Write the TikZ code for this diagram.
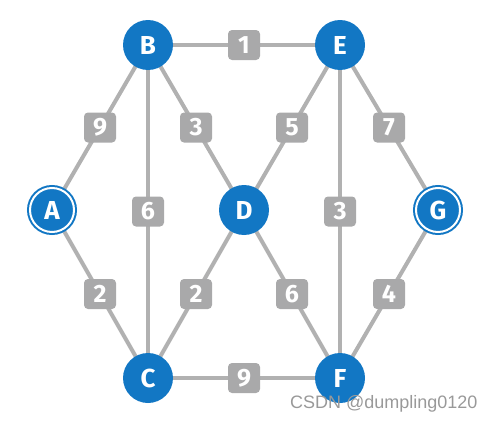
\documentclass[tikz,border=0pt]{standalone}
\usepackage{fontspec}
\usetikzlibrary{backgrounds}
\setmainfont{Fira Sans}
\newfontfamily\wmfont{Liberation Sans}
\definecolor{nodeblue}{HTML}{1277C4}
\definecolor{edgegray}{HTML}{B1B1B1}
\definecolor{boxgray}{HTML}{A9A9AA}
\begin{document}
\begin{tikzpicture}[x=1pt,y=-1pt,
  vtx/.style={circle,fill=nodeblue,minimum size=50pt,inner sep=0pt,text=white,font=\fontsize{26}{26}\selectfont\bfseries},
  rvtx/.style={vtx,double=white,draw=nodeblue,double distance=2pt,line width=2pt,minimum size=44pt},
  edge/.style={draw=edgegray,line width=4pt},
  wt/.style={fill=boxgray,rounded corners=4pt,minimum width=32pt,minimum height=30pt,inner sep=0pt,text=white,font=\fontsize{25}{25}\selectfont\bfseries}]
\useasboundingbox (0,0) rectangle (488,423);
\node[rvtx] (A) at (52,210) {A};
\node[vtx] (B) at (148,45) {B};
\node[vtx] (E) at (340,45) {E};
\node[vtx] (D) at (244,210) {D};
\node[rvtx] (G) at (438,210) {G};
\node[vtx] (C) at (148,378) {C};
\node[vtx] (F) at (340,378) {F};
\begin{scope}[on background layer]
\path[edge] (B.center) -- (E.center) node[pos=0.5,wt]{1};
\path[edge] (A.center) -- (B.center) node[pos=0.5,wt]{9};
\path[edge] (B.center) -- (D.center) node[pos=0.5,wt]{3};
\path[edge] (B.center) -- (C.center) node[pos=0.5,wt]{6};
\path[edge] (D.center) -- (E.center) node[pos=0.5,wt]{5};
\path[edge] (E.center) -- (G.center) node[pos=0.5,wt]{7};
\path[edge] (E.center) -- (F.center) node[pos=0.5,wt]{3};
\path[edge] (A.center) -- (C.center) node[pos=0.5,wt]{2};
\path[edge] (C.center) -- (D.center) node[pos=0.5,wt]{2};
\path[edge] (D.center) -- (F.center) node[pos=0.5,wt]{6};
\path[edge] (G.center) -- (F.center) node[pos=0.5,wt]{4};
\path[edge] (C.center) -- (F.center) node[pos=0.5,wt]{9};
\end{scope}
\node[anchor=east,text=gray!80,font=\wmfont\fontsize{18}{18}\selectfont] (wm) at (481,404) {CSDN @dumpling0120};
\end{tikzpicture}
\end{document}
